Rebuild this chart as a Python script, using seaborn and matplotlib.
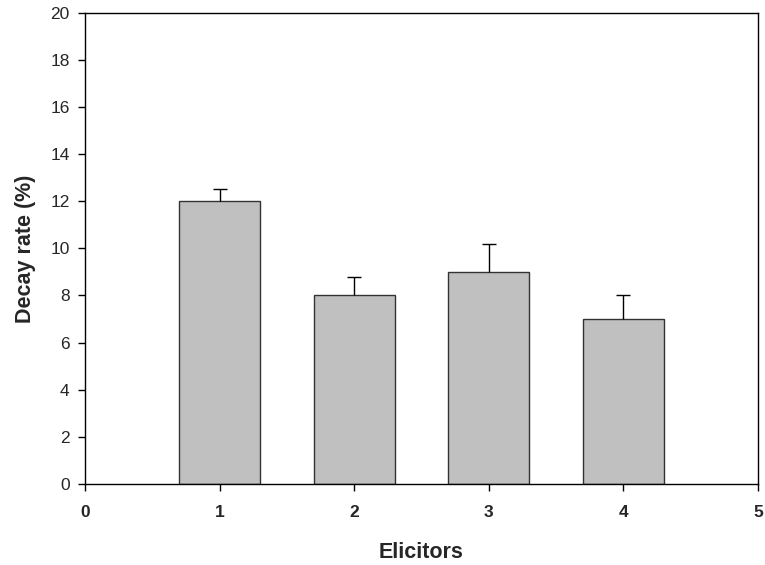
import matplotlib
matplotlib.use("Agg")
import matplotlib.pyplot as plt
import seaborn as sns
import pandas as pd
import numpy as np

# Decay rate for each elicitor treatment
elicitors = [1, 2, 3, 4]
decay_rate = [12.0, 8.0, 9.0, 7.0]
std_err = [0.5, 0.8, 1.2, 1.0]
x_ticks = [0, 1, 2, 3, 4, 5]
y_ticks = [0, 2, 4, 6, 8, 10, 12, 14, 16, 18, 20]

sns.set_theme(style="ticks")
plt.rcParams["font.family"] = ["Liberation Sans", "DejaVu Sans"]

df = pd.DataFrame({"Elicitors": elicitors, "Decay": decay_rate, "Err": std_err})

fig = plt.figure(figsize=(7.65, 5.65), dpi=100)
ax = fig.add_axes([0.111, 0.1434, 0.880, 0.834])

sns.barplot(data=df, x="Elicitors", y="Decay", native_scale=True, width=0.6,
            color="#c0c0c0", saturation=1, edgecolor="#333333", linewidth=1.0,
            errorbar=None, ax=ax)

# upper-only error bars
_, caps, _ = ax.errorbar(df["Elicitors"], df["Decay"],
                         yerr=[np.zeros(len(df)), df["Err"]],
                         fmt="none", ecolor="black", elinewidth=1.0,
                         capsize=5, capthick=1.0)
caps[0].set_visible(False)

ax.set_xlim(0, 5)
ax.set_ylim(0, 20)
ax.set_xticks(x_ticks)
ax.set_yticks(y_ticks)
ax.set_xticklabels([str(t) for t in x_ticks], fontweight="bold", fontsize=12.5)
ax.set_yticklabels([str(t) for t in y_ticks], fontsize=12.5)
ax.tick_params(axis="both", direction="out", length=5, width=1, color="black", pad=6)
ax.tick_params(axis="x", pad=10)

for s in ax.spines.values():
    s.set_visible(True)
    s.set_color("black")
    s.set_linewidth(1.0)

ax.set_xlabel("Elicitors", fontweight="bold", fontsize=15.5, labelpad=16)
ax.set_ylabel("Decay rate (%)", fontweight="bold", fontsize=15.5, labelpad=10)

fig.savefig("out.png", dpi=100)
